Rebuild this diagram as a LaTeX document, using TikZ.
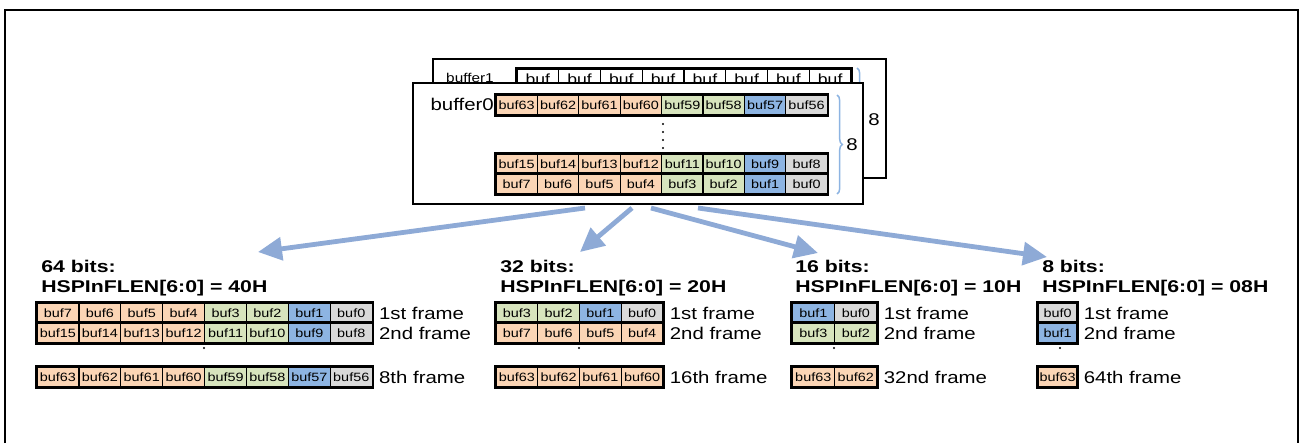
\documentclass[tikz,border=0pt]{standalone}
\usepackage{fontspec}
\setmainfont{Liberation Sans}
\usepackage{graphicx}
\usetikzlibrary{positioning,arrows.meta,decorations.pathreplacing}
\definecolor{peach}{HTML}{FBD5B5}
\definecolor{leaf}{HTML}{D7E4BD}
\definecolor{sky}{HTML}{8DB4E2}
\definecolor{ash}{HTML}{D9D9D9}
\definecolor{flow}{HTML}{8EAAD6}
\newcommand{\wide}[1]{\scalebox{1.2}[1]{#1}}
\newcommand{\wider}[1]{\scalebox{1.25}[1]{#1}}
\tikzset{
  cell/.style={draw,line width=0.9pt,inner sep=0pt,minimum height=15pt,font=\fontsize{9}{10}\selectfont},
  rowbox/.style={draw,line width=1.5pt},
  lbl/.style={anchor=west,inner sep=0pt,font=\fontsize{12.75}{14}\selectfont},
  head/.style={anchor=west,inner sep=0pt,font=\fontsize{12.75}{14}\selectfont\bfseries},
  fan/.style={draw=flow,line width=3.6pt,-{Triangle[length=18pt,width=17pt]}},
  curly/.style={draw=sky,line width=1.1pt,decorate,decoration={brace,amplitude=4pt}}
}
% name, left x, centre y, cell width, last index, cells
\newcommand{\bufrow}[6]{%
  \foreach \n/\c [count=\i from 0] in {#6}
    \node[cell,fill=\c,minimum width=#4*0.75pt] (#1-\i) at (#2+#4/2+\i*#4,#3) {\wide{buf\n}};
  \draw[rowbox] (#1-0.north west) rectangle (#1-#5.south east);
}
\begin{document}
\begin{tikzpicture}[x=0.75pt,y=-0.75pt]
  \useasboundingbox (0,0) rectangle (1301,443);
  \draw[line width=1.6pt] (5,443) -- (5,10) -- (1298,10) -- (1298,443);

  \draw[line width=1pt,fill=white] (433,59) rectangle (886,178);
  \node[anchor=base,inner sep=0pt,font=\fontsize{9.6}{11}\selectfont] (name1) at (470,82) {\wide{buffer1}};
  \foreach \i in {0,...,7}
    \node[cell,fill=white,minimum width=41.75*0.75pt,font=\fontsize{11}{12}\selectfont] (b1-\i) at (537.9+\i*41.75,79) {\wide{buf}};
  \draw[rowbox] (b1-0.north west) rectangle (b1-7.south east);
  \draw[curly] (857,68) -- (857,172);
  \node[lbl] (cnt1) at (868,120) {\wide{8}};

  \draw[line width=1pt,fill=white] (413,83) rectangle (863,204);
  \node[anchor=east,inner sep=0pt,font=\fontsize{12.75}{14}\selectfont] (name0) at (494,104) {\wide{buffer0}};
  \bufrow{b0a}{496}{105}{41.4}{7}{63/peach,62/peach,61/peach,60/peach,59/leaf,58/leaf,57/sky,56/ash}
  \bufrow{b0b}{496}{164}{41.4}{7}{15/peach,14/peach,13/peach,12/peach,11/leaf,10/leaf,9/sky,8/ash}
  \bufrow{b0c}{496}{184}{41.4}{7}{7/peach,6/peach,5/peach,4/peach,3/leaf,2/leaf,1/sky,0/ash}
  \foreach \y in {124,132,140,148} \fill (663,\y) circle (0.9pt);
  \draw[curly] (837,95) -- (837,194);
  \node[lbl] (cnt0) at (846,145) {\wide{8}};

  \coordinate (s64) at (585,208); \coordinate (t64) at (258,252);
  \coordinate (s32) at (632,208); \coordinate (t32) at (580,252);
  \coordinate (s16) at (651,208); \coordinate (t16) at (818,253);
  \coordinate (s8) at (698,208);  \coordinate (t8) at (1047,257);
  \draw[fan] (s64) -- (t64);
  \draw[fan] (s32) -- (t32);
  \draw[fan] (s16) -- (t16);
  \draw[fan] (s8) -- (t8);

  \node[head] (h64a) at (41,266) {\wider{64 bits:}};
  \node[head] (h64b) at (41,288) {\wider{HSPInFLEN[6:0] = 40H}};
  \bufrow{q64a}{37}{313}{41.9}{7}{7/peach,6/peach,5/peach,4/peach,3/leaf,2/leaf,1/sky,0/ash}
  \bufrow{q64b}{37}{333}{41.9}{7}{15/peach,14/peach,13/peach,12/peach,11/leaf,10/leaf,9/sky,8/ash}
  \bufrow{q64c}{37}{377}{41.9}{7}{63/peach,62/peach,61/peach,60/peach,59/leaf,58/leaf,57/sky,56/ash}
  \fill (204,348) circle (0.8pt);
  \node[lbl,right=4.5pt of q64a-7] (f64a) {\wide{1st frame}};
  \node[lbl,right=4.5pt of q64b-7] (f64b) {\wide{2nd frame}};
  \node[lbl,right=4.5pt of q64c-7] (f64c) {\wide{8th frame}};

  \node[head] (h32a) at (500,266) {\wider{32 bits:}};
  \node[head] (h32b) at (500,288) {\wider{HSPInFLEN[6:0] = 20H}};
  \bufrow{q32a}{496}{313}{41.75}{3}{3/leaf,2/leaf,1/sky,0/ash}
  \bufrow{q32b}{496}{333}{41.75}{3}{7/peach,6/peach,5/peach,4/peach}
  \bufrow{q32c}{496}{377}{41.75}{3}{63/peach,62/peach,61/peach,60/peach}
  \fill (579,348) circle (0.8pt);
  \node[lbl,right=4.5pt of q32a-3] (f32a) {\wide{1st frame}};
  \node[lbl,right=4.5pt of q32b-3] (f32b) {\wide{2nd frame}};
  \node[lbl,right=4.5pt of q32c-3] (f32c) {\wide{16th frame}};

  \node[head] (h16a) at (795,266) {\wider{16 bits:}};
  \node[head] (h16b) at (795,288) {\wider{HSPInFLEN[6:0] = 10H}};
  \bufrow{q16a}{792}{313}{42.5}{1}{1/sky,0/ash}
  \bufrow{q16b}{792}{333}{42.5}{1}{3/leaf,2/leaf}
  \bufrow{q16c}{792}{377}{42.5}{1}{63/peach,62/peach}
  \fill (834,348) circle (0.8pt);
  \node[lbl,right=4.5pt of q16a-1] (f16a) {\wide{1st frame}};
  \node[lbl,right=4.5pt of q16b-1] (f16b) {\wide{2nd frame}};
  \node[lbl,right=4.5pt of q16c-1] (f16c) {\wide{32nd frame}};

  \node[head] (h8a) at (1042,266) {\wider{8 bits:}};
  \node[head] (h8b) at (1042,288) {\wider{HSPInFLEN[6:0] = 08H}};
  \bufrow{q8a}{1038}{313}{39}{0}{0/ash}
  \bufrow{q8b}{1038}{333}{39}{0}{1/sky}
  \bufrow{q8c}{1038}{377}{39}{0}{63/peach}
  \fill (1060,348) circle (0.8pt);
  \node[lbl,right=4.5pt of q8a-0] (f8a) {\wide{1st frame}};
  \node[lbl,right=4.5pt of q8b-0] (f8b) {\wide{2nd frame}};
  \node[lbl,right=4.5pt of q8c-0] (f8c) {\wide{64th frame}};
\end{tikzpicture}
\end{document}
